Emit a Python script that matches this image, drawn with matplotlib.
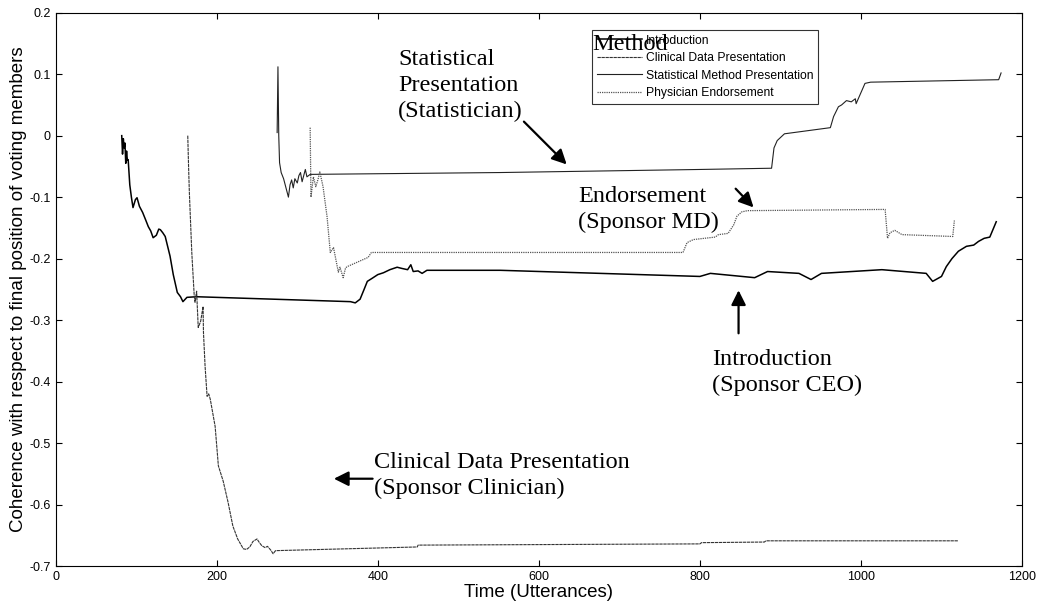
import numpy as np
import matplotlib
matplotlib.use("Agg")
import matplotlib.pyplot as plt

# (utterance, coherence) pairs
intro = [(82, 0.0), (83, -0.03), (84, -0.005), (85, -0.02), (86, -0.012), (87, -0.045),
         (88, -0.025), (89, -0.04), (90, -0.039), (92, -0.08), (94, -0.1), (96, -0.117),
         (99, -0.104), (101, -0.101), (104, -0.115), (108, -0.125), (112, -0.138),
         (115, -0.148), (118, -0.155), (121, -0.166), (125, -0.162), (128, -0.152),
         (130, -0.153), (133, -0.158), (136, -0.164), (139, -0.18), (142, -0.196),
         (146, -0.226), (151, -0.255), (155, -0.262), (158, -0.27), (163, -0.263),
         (175, -0.262), (366, -0.27), (372, -0.272), (378, -0.266), (383, -0.25),
         (387, -0.237), (393, -0.232), (400, -0.226), (407, -0.223), (415, -0.218),
         (424, -0.214), (430, -0.216), (437, -0.218), (441, -0.21), (444, -0.221),
         (450, -0.22), (455, -0.224), (461, -0.219), (552, -0.219), (800, -0.229),
         (813, -0.224), (868, -0.231), (884, -0.221), (923, -0.224), (938, -0.234),
         (951, -0.224), (1026, -0.218), (1081, -0.224), (1089, -0.237), (1100, -0.229),
         (1106, -0.213), (1113, -0.2), (1121, -0.188), (1131, -0.18), (1140, -0.178),
         (1146, -0.172), (1153, -0.167), (1160, -0.165), (1168, -0.14)]

clinical = [(164, 0.0), (165, -0.05), (166, -0.093), (169, -0.19), (172, -0.26),
            (173, -0.271), (175, -0.253), (177, -0.312), (180, -0.302), (183, -0.278),
            (183.5, -0.32), (185.5, -0.375), (188, -0.424), (190, -0.42), (192, -0.429),
            (198, -0.473), (202, -0.537), (208, -0.562), (214, -0.596), (220, -0.635),
            (226, -0.656), (233, -0.672), (237, -0.673), (241, -0.669), (245, -0.66),
            (250, -0.656), (253, -0.662), (256, -0.667), (260, -0.67), (263, -0.668),
            (267, -0.674), (270, -0.68), (273, -0.675), (449, -0.669), (450, -0.666),
            (800, -0.664), (802, -0.662), (880, -0.661), (882, -0.659), (1121, -0.659)]

stat_method = [(275, 0.005), (276, 0.112), (277, 0.0), (278, -0.044), (280, -0.06),
               (283, -0.07), (286, -0.085), (289, -0.1), (291, -0.08), (293, -0.072),
               (295, -0.085), (297, -0.07), (300, -0.077), (302, -0.065), (304, -0.06),
               (306, -0.075), (308, -0.065), (310, -0.055), (312, -0.067), (316, -0.063),
               (552, -0.06), (800, -0.055), (889, -0.053), (892, -0.02), (896, -0.008),
               (905, 0.003), (962, 0.013), (966, 0.031), (972, 0.047), (976, 0.05),
               (982, 0.057), (988, 0.055), (993, 0.06), (994, 0.052), (1002, 0.076),
               (1005, 0.085), (1012, 0.087), (1171, 0.091), (1174, 0.102)]

endorse = [(316, 0.013), (317, -0.1), (320, -0.067), (323, -0.083), (326, -0.07),
           (328, -0.059), (332, -0.083), (337, -0.132), (341, -0.19), (345, -0.182),
           (351, -0.222), (353, -0.214), (357, -0.231), (360, -0.215), (362, -0.213),
           (388, -0.198), (392, -0.19), (779, -0.19), (784, -0.174), (792, -0.169),
           (819, -0.165), (823, -0.161), (835, -0.159), (842, -0.145), (846, -0.131),
           (852, -0.124), (859, -0.122), (1030, -0.12), (1033, -0.167), (1036, -0.158),
           (1042, -0.154), (1051, -0.161), (1114, -0.164), (1116, -0.138)]

legend_labels = ['Introduction', 'Clinical Data Presentation',
                 'Statistical Method Presentation', 'Physician Endorsement']
xticks = [0, 200, 400, 600, 800, 1000, 1200]
yticks = [-0.7, -0.6, -0.5, -0.4, -0.3, -0.2, -0.1, 0, 0.1, 0.2]
ytick_labels = ['-0.7', '-0.6', '-0.5', '-0.4', '-0.3', '-0.2', '-0.1', '0', '0.1', '0.2']

plt.rcParams['font.family'] = 'Liberation Sans'

fig = plt.figure(figsize=(10.45, 6.1), dpi=100)
ax = fig.add_axes([0.0533, 0.0721, 0.9247, 0.9071])

styles = [dict(color='black', lw=1.1, ls='-'),
          dict(color='#333333', lw=0.8, ls=(0, (3, 0.6))),
          dict(color='#222222', lw=0.8, ls='-'),
          dict(color='#555555', lw=0.9, ls=(0, (1, 0.8)))]

for data, lab, st in zip([intro, clinical, stat_method, endorse], legend_labels, styles):
    arr = np.array(data)
    ax.plot(arr[:, 0], arr[:, 1], label=lab, **st)

ax.set_xlim(0, 1200)
ax.set_ylim(-0.7, 0.2)
ax.set_xticks(xticks)
ax.set_yticks(yticks)
ax.set_yticklabels(ytick_labels)
ax.tick_params(direction='in', top=True, right=True, length=4, labelsize=9)
ax.set_xlabel('Time (Utterances)', fontsize=13.5, labelpad=1)
ax.set_ylabel('Coherence with respect to final position of voting members',
              fontsize=13.5, labelpad=2)

leg = ax.legend(loc='upper left', bbox_to_anchor=(0.555, 0.969), fontsize=8.7,
                frameon=True, fancybox=False, edgecolor='black', facecolor='none',
                handlelength=3.7, handletextpad=0.35, labelspacing=0.45,
                borderpad=0.4, borderaxespad=0)
leg.get_frame().set_linewidth(0.8)

serif = dict(family='Liberation Serif', fontsize=17.5, linespacing=1.3)
arrow = dict(arrowstyle='-|>', color='black', lw=1.6, mutation_scale=22)

ax.text(425, 0.081, 'Statistical\nPresentation\n(Statistician)', ha='left', va='center', **serif)
ax.text(666, 0.148, 'Method', ha='left', va='center', **serif)
ax.annotate('', xy=(637, -0.05), xytext=(579, 0.026), arrowprops=arrow)

ax.text(649, -0.12, 'Endorsement\n(Sponsor MD)', ha='left', va='center', **serif)
ax.annotate('', xy=(869, -0.12), xytext=(842, -0.083), arrowprops=arrow)

ax.text(815, -0.385, 'Introduction\n(Sponsor CEO)', ha='left', va='center', **serif)
ax.annotate('', xy=(848, -0.247), xytext=(848, -0.326), arrowprops=arrow)

ax.text(395, -0.553, 'Clinical Data Presentation\n(Sponsor Clinician)', ha='left', va='center', **serif)
ax.annotate('', xy=(342, -0.558), xytext=(397, -0.558), arrowprops=arrow)

fig.savefig('out.png', dpi=100)
